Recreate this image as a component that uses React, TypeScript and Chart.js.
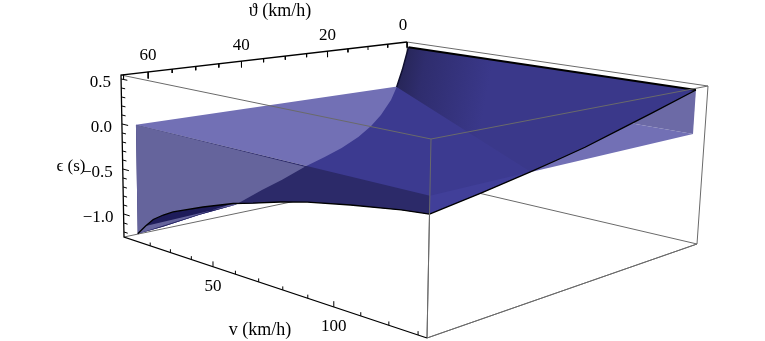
import React, { useEffect, useRef } from "react";
import { Chart, registerables } from "chart.js";

Chart.register(...registerables);

// Plot box limits (data units)
const vBox = [6.5, 133];
const thetaBox = [0, 65.5];
const epsBox = [-1.256, 0.544];

// Surface limits
const vStart = 13.7;
const vEnd = 133;
const thetaStart = 3.2;
const thetaEnd = 65.5;
const planeEps = 0.03;
const topEps = 0.52;

// Surface edges
const vMinEdgeTheta = [3.2, 4.9, 6.4, 7.9, 10.5, 13, 16.2, 20.3, 24.4, 29.1, 34.4, 39, 44.9, 52.7, 60.4, 65.5];
const vMinEdgeEps = [0.52, 0.233, 0.024, -0.133, -0.306, -0.426, -0.536, -0.637, -0.709, -0.785, -0.888, -0.962, -1.073, -1.101, -1.15, -1.17];
const thetaMaxEdgeV = [13.7, 17.8, 21.7, 26.7, 31.5, 45.6, 59.1, 67.6, 78.9, 89.6, 105.8, 123.6, 133];
const thetaMaxEdgeEps = [-1.17, -1.056, -0.958, -0.876, -0.811, -0.664, -0.538, -0.478, -0.391, -0.32, -0.239, -0.163, -0.135];
const vMaxEdgeTheta = [3.2, 14.5, 22.5, 30.8, 37.5, 43.5, 54.4, 65.5];
const vMaxEdgeEps = [0.525, 0.365, 0.26, 0.155, 0.088, 0.033, -0.058, -0.135];

// Ticks
const thetaMajor = [0, 20, 40, 60];
const thetaMinor = [5, 10, 15, 25, 30, 35, 45, 50, 55, 65];
const vMajor = [50, 100];
const vMinor = [20, 30, 40, 60, 70, 80, 90, 110, 120, 130];
const epsMajor = [0.5, 0, -0.5, -1];
const epsMinor = [0.4, 0.3, 0.2, 0.1, -0.1, -0.2, -0.3, -0.4, -0.6, -0.7, -0.8, -0.9, -1.1, -1.2];
const epsLabels = ["0.5", "0.0", "\u22120.5", "\u22121.0"];

// Box corners on the page: [vIndex][thetaIndex][top, bottom]
const corners = [
  [[[407, 42], [410, 177]], [[121, 75], [124, 237]]],
  [[[708, 86], [697, 244]], [[431, 139], [427, 338]]],
];

type P = { x: number; y: number };
type V3 = [number, number, number];

const warp = (u: number, a: number) => u / (u + a * (1 - u));
const lerp = (a: number, b: number, t: number) => a + (b - a) * t;

function project([v, theta, eps]: V3): P {
  const f = warp((v - vBox[0]) / (vBox[1] - vBox[0]), 1.26);
  const w = warp((theta - thetaBox[0]) / (thetaBox[1] - thetaBox[0]), 1.14);
  const h = (epsBox[1] - eps) / (epsBox[1] - epsBox[0]);
  const axis = (i: number) =>
    lerp(
      lerp(lerp(corners[0][0][0][i], corners[0][0][1][i], h), lerp(corners[0][1][0][i], corners[0][1][1][i], h), w),
      lerp(lerp(corners[1][0][0][i], corners[1][0][1][i], h), lerp(corners[1][1][0][i], corners[1][1][1][i], h), w),
      f
    );
  return { x: axis(0), y: axis(1) };
}

const vMinEdge: V3[] = vMinEdgeTheta.map((t, i) => [vStart, t, vMinEdgeEps[i]]);
const thetaMaxEdge: V3[] = thetaMaxEdgeV.map((v, i) => [v, thetaEnd, thetaMaxEdgeEps[i]]);
const vMaxEdge: V3[] = vMaxEdgeTheta.map((t, i) => [vEnd, t, vMaxEdgeEps[i]]);
const topEdge: V3[] = [[vStart, thetaStart, topEps], [vEnd, thetaStart, vMaxEdgeEps[0]]];

const [vL, vH] = vBox;
const [tL, tH] = thetaBox;
const [eL, eH] = epsBox;

const GAP = { x: NaN, y: NaN };

function ticks(values: number[], at: (n: number) => V3, to: (n: number) => V3): P[] {
  const out: P[] = [];
  values.forEach((n) => out.push(project(at(n)), project(to(n)), GAP));
  return out;
}

export default function App() {
  const ref = useRef<HTMLCanvasElement>(null);
  useEffect(() => {
    const canvas = ref.current!;
    const ctx = canvas.getContext("2d")!;

    const grad = ctx.createLinearGradient(396, 60, 490, 78);
    grad.addColorStop(0, "#252452");
    grad.addColorStop(0.3, "#2F2D6E");
    grad.addColorStop(1, "#3A388A");

    const layers: any[] = [];
    const poly = (pts: V3[], color: any) =>
      layers.push({ data: pts.map(project), backgroundColor: color, borderWidth: 0, borderColor: "transparent", fill: "shape" });
    const line = (pts: V3[], color: string, width = 1) =>
      layers.push({ data: pts.map(project), borderColor: color, borderWidth: width, fill: false });
    const rawLine = (pts: P[], color: string, width = 1) =>
      layers.push({ data: pts, borderColor: color, borderWidth: width, fill: false });

    const grey = "#6A6A6A";
    // back box edges
    line([[vL, tH, eL], [vL, tL, eL], [vH, tL, eL]], grey);
    line([[vL, tL, eH], [vL, tL, eL]], grey);
    line([[vL, tL, eH], [vH, tL, eH], [vH, tL, eL], [vH, tH, eL], [vH, tH, eH]], grey);

    // flat plane and the back wall rising from it
    poly([[vStart, thetaStart, planeEps], [vEnd, thetaStart, planeEps], [vEnd, thetaEnd, planeEps], [vStart, thetaEnd, planeEps]], "#7270B5");
    poly([[vStart, thetaStart, planeEps], [vEnd, thetaStart, planeEps], [vEnd, thetaStart, vMaxEdgeEps[0]], [vStart, thetaStart, topEps]], "#6C6AA6");

    // dark curved surface
    poly([...topEdge, ...vMaxEdge.slice(1), ...[...thetaMaxEdge].reverse().slice(1), ...[...vMinEdge].reverse().slice(1)], "#3C3A90");
    // part of the surface above the plane
    poly([...topEdge, ...vMaxEdge.slice(1, 6), ...vMinEdge.slice(0, 3).reverse()], grad);
    // wedge below the front edge of the plane
    poly([...vMaxEdge.slice(5), [vEnd, thetaEnd, planeEps]], "#413F99");

    // front wall between plane and surface
    poly([[vStart, thetaEnd, planeEps], [vEnd, thetaEnd, planeEps], ...[...thetaMaxEdge].reverse()], "#2C2A69");
    poly([[vStart, thetaEnd, planeEps], ...vMinEdge.slice(9)], "#65649C");
    poly([...vMinEdge.slice(12), ...thetaMaxEdge.slice(1, 7).reverse()], "#1E1C5A");

    // surface outlines
    line(topEdge, "#000000", 2);
    line(vMinEdge.slice(0, 3), "#101030", 1.5);
    line(vMaxEdge, "#000000", 1.3);
    line(thetaMaxEdge, "#000000", 1.3);

    // front box edges
    line([[vL, tH, eH], [vH, tH, eH], [vH, tL, eH]], grey);
    line([[vH, tH, eH], [vH, tH, eL], [vH, tL, eL]], grey);

    // axes
    line([[vL, tL, eH], [vL, tH, eH], [vL, tH, eL], [vH, tH, eL]], "#000000", 1.3);
    rawLine(ticks(thetaMajor, (t) => [vL, t, eH], (t) => [vL, t, eH - 0.075]), "#000000");
    rawLine(ticks(thetaMinor, (t) => [vL, t, eH], (t) => [vL, t, eH - 0.045]), "#000000");
    rawLine(ticks(vMajor, (v) => [v, tH, eL], (v) => [v, tH, eL + 0.055]), "#000000");
    rawLine(ticks(vMinor, (v) => [v, tH, eL], (v) => [v, tH, eL + 0.035]), "#000000");
    rawLine(ticks(epsMajor, (e) => [vL, tH, e], (e) => [vL + 3.2, tH, e]), "#000000");
    rawLine(ticks(epsMinor, (e) => [vL, tH, e], (e) => [vL + 2, tH, e]), "#000000");

    const datasets = layers.map((d, i) => ({ ...d, order: -i, showLine: true, pointRadius: 0, tension: 0, spanGaps: false, clip: false }));

    const textPlugin = {
      id: "texts",
      afterDraw(chart: any) {
        const c = chart.ctx;
        c.save();
        c.fillStyle = "#000";
        c.textBaseline = "middle";
        c.font = '17px "Liberation Serif"';
        c.textAlign = "center";
        thetaMajor.forEach((t) => {
          const p = project([vL, t, eH]);
          c.fillText(String(t), p.x - (t === 0 ? 4 : 0), p.y - 16);
        });
        vMajor.forEach((v) => {
          const p = project([v, tH, eL]);
          c.fillText(String(v), p.x, p.y + 19.5);
        });
        c.textAlign = "right";
        epsMajor.forEach((e, i) => {
          const p = project([vL, tH, e]);
          c.fillText(epsLabels[i], p.x - 10, p.y + 3.5);
        });
        c.textAlign = "center";
        c.fillText("\u03F5 (s)", 71, 167);
        c.font = '18px "Liberation Serif"';
        c.fillText("\u03D1 (km/h)", 280, 11);
        c.fillText("v (km/h)", 260, 330);
        c.restore();
      },
    };

    const chart = new Chart(canvas, {
      type: "scatter",
      data: { datasets },
      options: {
        animation: false,
        responsive: false,
        events: [],
        layout: { padding: 0 },
        plugins: { legend: { display: false }, tooltip: { enabled: false } },
        scales: {
          x: { type: "linear", display: false, min: 0, max: 765 },
          y: { type: "linear", display: false, min: 0, max: 341, reverse: true },
        },
      },
      plugins: [textPlugin],
    } as any);
    return () => chart.destroy();
  }, []);
  return (
    <canvas
      ref={ref}
      width={765}
      height={341}
      style={{ position: "absolute", left: 0, top: 0, display: "block", width: 765, height: 341, background: "#fff" }}
    />
  );
}
